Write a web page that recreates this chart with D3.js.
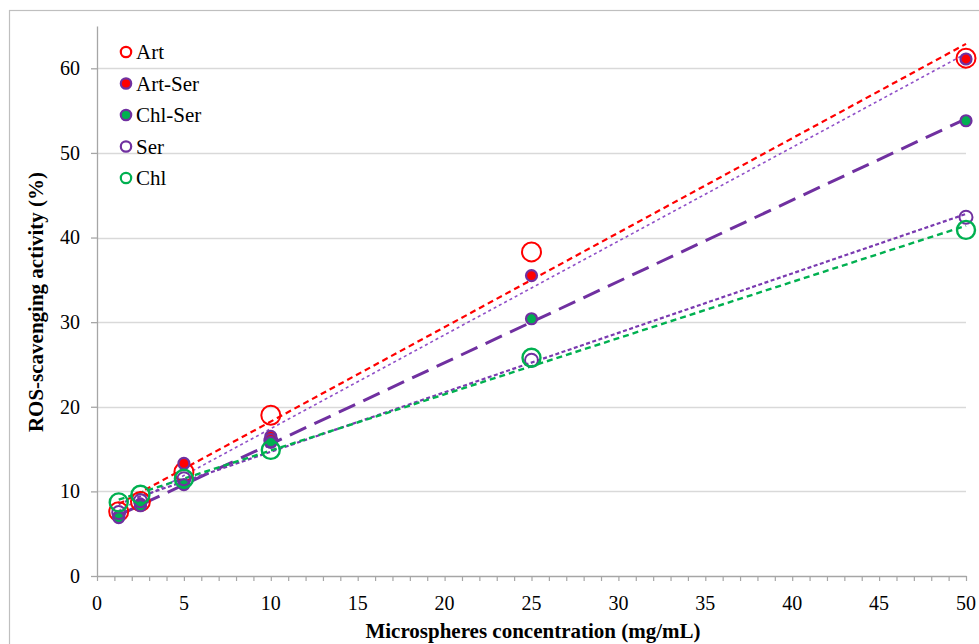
<!DOCTYPE html>
<html><head><meta charset="utf-8">
<script src="https://cdn.jsdelivr.net/npm/d3@7"></script>
<style>body{margin:0;background:#fff}svg{display:block}text{font-family:"Liberation Serif","Times New Roman",serif}</style>
</head><body>
<svg id="c" width="979" height="644"></svg>
<script>
const concentrations = [1.25, 2.5, 5, 10, 25, 50];
const art    = [7.6, 8.8, 12.3, 19.0, 38.3, 61.2];
const artSer = [7.0, 8.5, 13.3, 16.5, 35.5, 61.1];
const chlSer = [6.9, 8.3, 10.8, 15.8, 30.4, 53.8];
const ser    = [7.5, 8.9, 11.5, 16.0, 25.5, 42.4];
const chl    = [8.7, 9.6, 11.5, 14.9, 25.8, 40.9];
const seriesNames = ["Art", "Art-Ser", "Chl-Ser", "Ser", "Chl"];
const xTicks = [0,5,10,15,20,25,30,35,40,45,50];
const yTicks = [0,10,20,30,40,50,60];

const RED="#FF0000", PURPLE="#7030A0", GREEN="#00B050";
const styles = {
  "Art":     {fill:"none",  stroke:RED,    r:9.5, sw:2,   line:RED,    lw:2.2, dash:"6,4"},
  "Art-Ser": {fill:RED,     stroke:PURPLE, r:5.5, sw:2.2, line:"#9050C8", lw:1.6, dash:"3,3"},
  "Chl-Ser": {fill:GREEN,   stroke:PURPLE, r:5.5, sw:2.2, line:PURPLE, lw:3,   dash:"18,9"},
  "Ser":     {fill:"none",  stroke:PURPLE, r:6.5, sw:2,   line:"#7A3AB0", lw:2.2, dash:"4,2.5"},
  "Chl":     {fill:"none",  stroke:GREEN,  r:9,   sw:2.4, line:GREEN,  lw:2.4, dash:"6,4"}
};
const data = [art, artSer, chlSer, ser, chl];

const svg = d3.select("#c");
const x = d3.scaleLinear().domain([0,50]).range([97,966]);
const y = d3.scaleLinear().domain([0,65]).range([576,26]);

// outer frame
svg.append("rect").attr("x",9.5).attr("y",10.5).attr("width",1200).attr("height",1200)
  .attr("fill","none").attr("stroke","#BFBFBF").attr("stroke-width",1.2);

// gridlines
svg.append("g").selectAll("line").data(yTicks.filter(d=>d>0)).join("line")
  .attr("x1",x(0)).attr("x2",x(50)).attr("y1",d=>Math.round(y(d))+0.5).attr("y2",d=>Math.round(y(d))+0.5)
  .attr("stroke","#D9D9D9").attr("stroke-width",1.3);

// y axis
const ya = svg.append("g").attr("transform",`translate(${x(0)},0)`)
  .call(d3.axisLeft(y).tickValues(yTicks).tickSize(6).tickPadding(11).tickSizeOuter(0));
ya.select(".domain").attr("stroke","#A6A6A6").attr("stroke-width",1.3);
ya.selectAll(".tick line").attr("stroke","#A6A6A6").attr("stroke-width",1.3);
ya.selectAll("text").attr("font-size",20).attr("fill","#000").style("font-family","'Liberation Serif',serif");

// x axis (minor ticks each unit)
const xa = svg.append("g").attr("transform",`translate(0,${y(0)})`)
  .call(d3.axisBottom(x).tickValues(d3.range(0,51,1)).tickSize(5).tickSizeOuter(0).tickFormat(""));
xa.select(".domain").attr("stroke","#A6A6A6").attr("stroke-width",1.3);
xa.selectAll(".tick line").attr("stroke","#A6A6A6").attr("stroke-width",1.2);
svg.append("g").selectAll("text").data(xTicks).join("text")
  .attr("x",d=>x(d)).attr("y",y(0)+34).attr("text-anchor","middle")
  .attr("font-size",20).text(d=>d);

// titles
svg.append("text").attr("x",533).attr("y",638).attr("text-anchor","middle")
  .attr("font-size",21).attr("font-weight","bold").text("Microspheres concentration (mg/mL)");
svg.append("text").attr("transform","translate(43,302) rotate(-90)").attr("text-anchor","middle")
  .attr("font-size",21).attr("font-weight","bold").text("ROS-scavenging activity (%)");

// linear regression trendlines
function fit(xs, ys){
  const mx=d3.mean(xs), my=d3.mean(ys);
  let sxy=0,sxx=0; xs.forEach((v,i)=>{sxy+=(v-mx)*(ys[i]-my); sxx+=(v-mx)*(v-mx);});
  const b=sxy/sxx; return {b, a: my-b*mx};
}
const lg = svg.append("g");
seriesNames.forEach((n,i)=>{
  const f = fit(concentrations, data[i]);
  const x0=d3.min(concentrations), x1=d3.max(concentrations);
  const s=styles[n];
  lg.append("line").attr("x1",x(x0)).attr("y1",y(f.a+f.b*x0)).attr("x2",x(x1)).attr("y2",y(f.a+f.b*x1))
    .attr("stroke",s.line).attr("stroke-width",s.lw).attr("stroke-dasharray",s.dash);
});

// markers
seriesNames.forEach((n,i)=>{
  const s=styles[n];
  svg.append("g").selectAll("circle").data(concentrations.map((c,j)=>[c,data[i][j]])).join("circle")
    .attr("cx",d=>x(d[0])).attr("cy",d=>y(d[1])).attr("r",s.r)
    .attr("fill",s.fill).attr("stroke",s.stroke).attr("stroke-width",s.sw);
});

// legend
const leg = svg.append("g");
seriesNames.forEach((n,i)=>{
  const s=styles[n], yy = 52 + i*31.5;
  leg.append("circle").attr("cx",126).attr("cy",yy).attr("r",5.2)
    .attr("fill",s.fill).attr("stroke",s.stroke).attr("stroke-width",2.2);
  leg.append("text").attr("x",136).attr("y",yy+7).attr("font-size",21).text(n);
});
</script>
</body></html>
